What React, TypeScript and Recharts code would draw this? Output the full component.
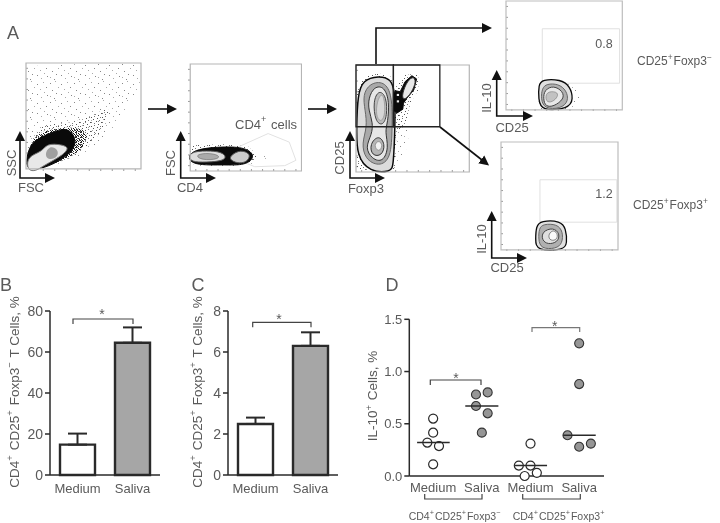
import React from 'react';
import {
  Bar,
  BarChart,
  Cell,
  ErrorBar,
  Scatter,
  ScatterChart,
  XAxis,
  YAxis,
  ZAxis,
} from 'recharts';

type Pt = { x: number; y: number };
const toPts = (pairs: number[][]): Pt[] => pairs.map(([x, y]) => ({ x, y }));

// bar panels
const groups = ['Medium', 'Saliva'];
const tregNegMeans = [14.8, 64.5];
const tregNegErrors = [5.4, 7.5];
const tregPosMeans = [2.49, 6.3];
const tregPosErrors = [0.31, 0.66];
const negTicks = [0, 20, 40, 60, 80];
const posTicks = [0, 2, 4, 6, 8];

// panel D, x is the group position with its jitter
const il10Ticks = [0, 0.5, 1, 1.5];
const il10Groups = ['Medium', 'Saliva', 'Medium', 'Saliva'];
const negMedium = toPts([[1, 0.55], [1, 0.415], [0.88, 0.32], [1.12, 0.287], [1, 0.112]]);
const negSaliva = toPts([[1.88, 0.78], [2.12, 0.8], [1.88, 0.67], [2.12, 0.6], [2, 0.415]]);
const posMedium = toPts([[3, 0.31], [2.76, 0.1], [3, 0.1], [3.13, 0.03], [2.88, 0]]);
const posSaliva = toPts([[4, 1.27], [4, 0.88], [3.76, 0.39], [4.24, 0.31], [4, 0.28]]);
const medians = [
  toPts([[0.67, 0.32], [1.34, 0.32]]),
  toPts([[1.66, 0.67], [2.34, 0.67]]),
  toPts([[2.68, 0.1], [3.34, 0.1]]),
  toPts([[3.67, 0.39], [4.34, 0.39]]),
];

// flow plots, outlines in percent of each plot
const frame = toPts([[0, 0], [100, 0], [100, 100], [0, 100]]);
const edgeTicks = [5, 15, 25, 35, 45, 55, 65, 75, 85, 95];

const sscSparse = toPts([[1, 5], [1, 97], [50, 99], [99, 99], [99, 75], [85, 55], [60, 22], [40, 8], [15, 1]]);
const sscStreak = toPts([[17, 45], [18, 88], [23, 88], [24, 45]]);
const sscFan = toPts([[3, 30], [18, 60], [40, 65], [75, 80], [90, 65], [75, 38], [56, 20], [40, 25]]);
const sscMedium = toPts([[2, 23], [13, 44], [38, 42], [58, 50], [76, 62], [68, 36], [52, 20], [38, 8], [10, 2]]);
const sscDense = toPts([[2, 22], [12, 36], [28, 38], [44, 40], [55, 34], [50, 20], [38, 10], [15, 1], [1, 2]]);
const sscBlack = toPts([[0, 8], [4, 26], [20, 33], [37, 41], [46, 24], [34, 10], [15, 0], [1, -1]]);
const sscWhite = toPts([[1, -2], [1, 12], [14, 16], [18, 24], [31, 23], [38, 20], [31, 12], [15, 3], [9, -2]]);
const sscGray = toPts([[16, 13], [20, 22], [28, 19], [28, 11], [20, 8]]);

const fscDotted = toPts([[0, 7], [0, 24], [30, 25], [52, 23], [60, 15], [56, 7], [40, 5], [10, 5]]);
const fscBlack = toPts([[-2, 20], [30, 23], [50, 22], [59, 14], [50, 5], [30, 6], [-2, 5]]);
const fscRingA = toPts([[-1, 18], [15, 19], [28, 18], [33, 13], [28, 9], [10, 8], [-1, 9]]);
const fscCoreA = toPts([[4, 15], [15, 17], [26, 15], [26, 11], [10, 10]]);
const fscRingB = toPts([[37, 15], [45, 20], [55, 16], [51, 8], [42, 7], [35, 11]]);
const fscGate = toPts([[40, 21], [70, 35], [89, 27], [95, 10], [85, 5], [58, 4], [44, 10]]);
const fscFaint = toPts([[65, 14], [72, 15], [73, 11], [66, 11]]);

const foxStippleLeft = toPts([[0.5, 2], [0.5, 75], [8, 90], [20, 92], [30, 90], [36, 75], [36, 40], [34, 2]]);
const foxStippleRight = toPts([[33, 42.5], [33, 76.7], [43.4, 90.7], [55, 92], [55, 76.7], [47.8, 64.3], [44.9, 48.8], [39, 38], [33, 38]]);
const foxStippleLow = toPts([[31, 3], [33, 42], [48, 42], [44, 20], [36, 3]]);
const foxOuter = toPts([[1.5, 72], [6, 86], [20, 90], [31, 87], [34.5, 75], [34.5, 42], [33, 6], [31, 0], [12, 0], [0.5, 15], [0.5, 42]]);
const foxSecond = toPts([[6, 72], [12, 83], [25, 85], [32, 72], [32, 42], [31, 12], [20, 5], [8, 12], [5, 27], [10, 42], [8, 58]]);
const foxThird = toPts([[11, 69], [16, 80], [25, 80], [29.5, 66], [28, 46], [25.5, 38], [29, 23], [24, 9], [14, 12], [8, 23], [14, 35], [15, 46], [11, 58]]);
const foxFourth = toPts([[15, 66], [20, 77], [27, 71], [27.5, 52], [23.5, 43], [17, 47]]);
const foxCore = toPts([[18.5, 66], [23, 75], [25.5, 65], [25.5, 52], [21.5, 46], [17.5, 53]]);
const foxLower = toPts([[12, 26], [20, 35], [26, 26], [23, 15], [14, 15]]);
const foxLowerCore = toPts([[15.5, 25], [20, 30], [24, 25], [20, 18]]);
const foxBlack = toPts([[33.1, 69], [34.6, 76], [39, 75], [43.4, 84.5], [49.3, 90], [53.5, 87], [51, 76.7], [44.9, 69], [41.9, 64.3], [41.3, 58.7], [36, 55], [33.1, 58]]);
const foxBlob = toPts([[40, 70], [44, 83], [50, 90], [53.5, 85], [49, 74], [43, 67]]);
const foxSpeckA = toPts([[36, 73], [38, 73], [38, 71], [36, 71]]);
const foxSpeckB = toPts([[36, 67], [38, 67], [38, 65], [36, 65]]);
const foxGateLeft = toPts([[0, 42.3], [33, 42.3], [33, 100], [0, 100]]);
const foxGateRight = toPts([[33, 42.3], [74, 42.3], [74, 100], [33, 100]]);

const negGate = toPts([[31.2, 24.5], [97.7, 24.5], [97.7, 74.5], [31.2, 74.5]]);
const negStipple = toPts([[28, 0], [28, 24], [50, 28], [60, 20], [64, 8], [62, 1]]);
const negOuter = toPts([[28, 23], [31, 28], [47, 28], [55, 22], [58, 10], [54, 1], [30, -1], [28, 10]]);
const negSecond = toPts([[31, 20], [35, 24], [45, 24], [52, 18], [54, 8], [47, 1], [33, 1], [30, 10]]);
const negThird = toPts([[33, 18.5], [41, 22.5], [49, 17], [50, 10], [41, 3], [34, 3], [32, 10]]);
const negCore = toPts([[34, 17], [44, 17], [45, 12.5], [40, 7], [34, 7]]);

const posGate = toPts([[33.3, 25.7], [99, 25.7], [99, 65], [33.3, 65]]);
const posOuter = toPts([[30, 22], [34, 27], [51, 27], [55.5, 20], [56.5, 6], [54, 0], [30, -1], [29.5, 9.8]]);
const posSecond = toPts([[32.5, 20], [36, 24], [48, 24], [53, 17], [52.5, 6], [47, 1], [34, 1], [32, 9.8]]);
const posThird = toPts([[35, 17], [44.6, 21], [50.5, 15], [48.5, 7], [40, 5], [35, 9]]);
const posCore = toPts([[40.5, 15], [45.2, 19], [49, 14], [47, 8.5], [41, 9]]);

// dot positions inside the stipple tiles
const sparseTile = [[1, 2], [6, 0], [12, 3], [18, 1], [21, 6], [9, 6], [3, 9], [15, 8], [7, 12], [19, 11], [12, 13], [1, 15], [5, 17], [16, 16], [22, 14]];
const mediumTile = [[0, 1], [3, 0], [6, 2], [9, 1], [2, 3], [8, 4], [5, 5], [0, 6], [10, 6], [3, 7], [7, 8]];
const denseTile = [[0, 0], [1, 0], [3, 1], [1, 2], [4, 2], [0, 3], [2, 3], [3, 4], [1, 4]];

const FONT = '"Liberation Sans", Arial, sans-serif';
const INK = '#5a5a5a';
const LINE = '#2a2a2a';
const noDot = () => <g />;

// one outline of a flow plot, drawn as the joining line of a scatter series
const outline = (
  key: string,
  data: Pt[],
  fill: string,
  stroke: string,
  strokeWidth = 1,
  curve: any = 'basisClosed',
) => (
  <Scatter
    key={key}
    data={data}
    shape={noDot}
    line={{ fill, stroke, strokeWidth }}
    lineJointType={curve}
    isAnimationActive={false}
  />
);

const FlowPlot = ({ left, top, width, height, children }: any) => (
  <div style={{ position: 'absolute', left: left - 1, top: top - 1, filter: 'blur(0.3px)' }}>
    <ScatterChart width={width + 2} height={height + 2} margin={{ top: 1, right: 1, bottom: 1, left: 1 }}>
      <XAxis
        type="number"
        dataKey="x"
        domain={[0, 100]}
        ticks={edgeTicks}
        mirror
        height={20}
        axisLine={false}
        tickSize={2}
        tickLine={{ stroke: '#999' }}
        tickFormatter={() => ''}
      />
      <YAxis
        type="number"
        dataKey="y"
        domain={[0, 100]}
        ticks={edgeTicks}
        mirror
        width={20}
        axisLine={false}
        tickSize={2}
        tickLine={{ stroke: '#999' }}
        tickFormatter={() => ''}
      />
      {children}
    </ScatterChart>
  </div>
);

const Txt = ({ x, y, size = 13, rotate, anchor = 'middle', children, fill = INK }: any) => (
  <text
    x={x}
    y={y}
    fontSize={size}
    fontFamily={FONT}
    fill={fill}
    textAnchor={anchor}
    dominantBaseline="central"
    transform={rotate ? `rotate(${rotate} ${x} ${y})` : undefined}
  >
    {children}
  </text>
);

const Sup = ({ children, size }: any) => (
  <>
    <tspan dy={-size * 0.35} fontSize={size * 0.7}>{children}</tspan>
    <tspan dy={size * 0.35} fontSize={size}>{'\u200a'}</tspan>
  </>
);

const Bracket = ({ x1, x2, top, bottom, stroke = '#444' }: any) => (
  <path d={`M${x1} ${bottom}V${top}H${x2}V${bottom}`} fill="none" stroke={stroke} strokeWidth={1.2} />
);

const AxisArrows = ({ x, top, y, right }: any) => (
  <path d={`M${x} ${top + 8}V${y}H${right - 8}`} fill="none" stroke="#111" strokeWidth={1.6} markerEnd="url(#head)" markerStart="url(#headStart)" />
);

const BarPanel = ({ left, means, errors, ticks, max }: any) => {
  const rows = groups.map((name, i) => ({ name, value: means[i], err: [0, errors[i]] }));
  return (
    <div style={{ position: 'absolute', left, top: 300 }}>
      <BarChart width={170} height={205} data={rows} margin={{ top: 11, right: 10, bottom: 0, left: 0 }}>
        <XAxis
          dataKey="name"
          height={30}
          tickLine={false}
          tickMargin={3}
          axisLine={{ stroke: LINE, strokeWidth: 1.5 }}
          tick={{ fontSize: 13, fill: INK, fontFamily: FONT }}
          interval={0}
        />
        <YAxis
          width={50}
          domain={[0, max]}
          ticks={ticks}
          tickSize={5}
          tickMargin={2}
          axisLine={{ stroke: LINE, strokeWidth: 1.5 }}
          tickLine={{ stroke: LINE, strokeWidth: 1.5 }}
          tick={{ fontSize: 14, fill: INK, fontFamily: FONT }}
        />
        <Bar dataKey="value" barSize={35} stroke={LINE} strokeWidth={2.4} isAnimationActive={false}>
          <Cell fill="#fff" />
          <Cell fill="#a6a6a6" />
          <ErrorBar dataKey="err" direction="y" width={9.5} stroke={LINE} strokeWidth={2} isAnimationActive={false} />
        </Bar>
      </BarChart>
    </div>
  );
};

const IL10Panel = () => (
  <div style={{ position: 'absolute', left: 360, top: 310 }}>
    <ScatterChart width={250} height={190} margin={{ top: 9.3, right: 6, bottom: 0, left: 0 }}>
      <XAxis
        type="number"
        dataKey="x"
        domain={[0.51, 4.51]}
        ticks={[1, 2, 3, 4]}
        tickFormatter={(v: number) => il10Groups[v - 1]}
        height={24}
        tickLine={false}
        tickMargin={1}
        axisLine={{ stroke: LINE, strokeWidth: 1.5 }}
        tick={{ fontSize: 13, fill: INK, fontFamily: FONT }}
        interval={0}
      />
      <YAxis
        type="number"
        dataKey="y"
        width={49.3}
        domain={[0, 1.5]}
        ticks={il10Ticks}
        tickFormatter={(v: number) => v.toFixed(1)}
        tickSize={5}
        tickMargin={2}
        axisLine={{ stroke: LINE, strokeWidth: 1.5 }}
        tickLine={{ stroke: LINE, strokeWidth: 1.5 }}
        tick={{ fontSize: 13, fill: INK, fontFamily: FONT }}
      />
      <ZAxis range={[46, 46]} />
      <Scatter data={negMedium} fill="#fff" stroke={LINE} strokeWidth={1.2} isAnimationActive={false} />
      <Scatter data={negSaliva} fill="#969696" stroke="#333" strokeWidth={1.1} isAnimationActive={false} />
      <Scatter data={posMedium} fill="#fff" stroke={LINE} strokeWidth={1.2} isAnimationActive={false} />
      <Scatter data={posSaliva} fill="#969696" stroke="#333" strokeWidth={1.1} isAnimationActive={false} />
      {medians.map((m, i) => (
        <Scatter
          key={i}
          data={m}
          shape={noDot}
          line={{ stroke: LINE, strokeWidth: 1.4, fill: 'none' }}
          isAnimationActive={false}
        />
      ))}
    </ScatterChart>
  </div>
);

const Annotations = () => (
  <svg width={720} height={523} style={{ position: 'absolute', left: 0, top: 0, pointerEvents: 'none' }}>
    <defs>
      <marker id="head" markerUnits="userSpaceOnUse" markerWidth={11} markerHeight={11} refX={1} refY={5.5} orient="auto">
        <path d="M0 0.5L10 5.5L0 10.5Z" fill="#111" />
      </marker>
      <marker id="headStart" markerUnits="userSpaceOnUse" markerWidth={11} markerHeight={11} refX={1} refY={5.5} orient="auto-start-reverse">
        <path d="M0 0.5L10 5.5L0 10.5Z" fill="#111" />
      </marker>
    </defs>

    <Txt x={13} y={33} size={18}>A</Txt>
    <Txt x={6} y={285} size={18}>B</Txt>
    <Txt x={198} y={285} size={18}>C</Txt>
    <Txt x={392} y={285} size={18}>D</Txt>

    {/* gating arrows */}
    <path d="M148 109H168" stroke="#111" strokeWidth={1.6} markerEnd="url(#head)" />
    <path d="M308 109H328" stroke="#111" strokeWidth={1.6} markerEnd="url(#head)" />
    <path d="M376 64V28H483" fill="none" stroke="#111" strokeWidth={1.6} markerEnd="url(#head)" />
    <path d="M440 127L482 160" stroke="#111" strokeWidth={1.6} markerEnd="url(#head)" />

    <AxisArrows x={20} top={132} y={178} right={54} />
    <AxisArrows x={180.7} top={132} y={178} right={215} />
    <AxisArrows x={350} top={132} y={178} right={384} />
    <AxisArrows x={496.7} top={71} y={116} right={532} />
    <AxisArrows x={491.7} top={212} y={258} right={526} />

    <Txt x={11} y={163} size={13} rotate={-90}>SSC</Txt>
    <Txt x={31} y={187} size={13}>FSC</Txt>
    <Txt x={170} y={163} size={13} rotate={-90}>FSC</Txt>
    <Txt x={190} y={187} size={13}>CD4</Txt>
    <Txt x={339} y={158} size={13} rotate={-90}>CD25</Txt>
    <Txt x={366} y={188} size={13}>Foxp3</Txt>
    <Txt x={486} y={98} size={13} rotate={-90}>IL-10</Txt>
    <Txt x={512} y={127} size={13}>CD25</Txt>
    <Txt x={481} y={239} size={13} rotate={-90}>IL-10</Txt>
    <Txt x={507} y={267} size={13}>CD25</Txt>

    <Txt x={235} y={124} size={13} anchor="start">CD4<Sup size={13}>+</Sup> cells</Txt>
    <Txt x={604} y={44} size={12.5}>0.8</Txt>
    <Txt x={604} y={194} size={12.5}>1.2</Txt>
    <Txt x={637} y={61} size={12} anchor="start">CD25<Sup size={12}>+</Sup>Foxp3<Sup size={12}>−</Sup></Txt>
    <Txt x={633} y={205} size={12} anchor="start">CD25<Sup size={12}>+</Sup>Foxp3<Sup size={12}>+</Sup></Txt>

    {/* panel B and C titles and significance */}
    <Txt x={14} y={392} size={13.5} rotate={-90}>CD4<Sup size={13.5}>+</Sup> CD25<Sup size={13.5}>+</Sup> Foxp3<Sup size={13.5}>−</Sup> T Cells, %</Txt>
    <Txt x={197} y={392} size={13.5} rotate={-90}>CD4<Sup size={13.5}>+</Sup> CD25<Sup size={13.5}>+</Sup> Foxp3<Sup size={13.5}>+</Sup> T Cells, %</Txt>
    <Bracket x1={73} x2={133} top={319} bottom={324} />
    <Txt x={102} y={314} size={14}>*</Txt>
    <Bracket x1={252.7} x2={311} top={322.3} bottom={327.3} />
    <Txt x={279} y={319} size={14}>*</Txt>

    {/* panel D */}
    <Txt x={372.7} y={396} size={13.5} rotate={-90}>IL-10<Sup size={13.5}>+</Sup> Cells, %</Txt>
    <Bracket x1={430.3} x2={481} top={380} bottom={385} />
    <Txt x={456} y={378} size={14}>*</Txt>
    <Bracket x1={532} x2={579.7} top={327.7} bottom={332} stroke="#777" />
    <Txt x={554.7} y={326} size={14}>*</Txt>
    <Bracket x1={424.7} x2={482} top={499} bottom={494} />
    <Bracket x1={522.7} x2={580.3} top={499} bottom={494} />
    <Txt x={455} y={516} size={10.5}>CD4<Sup size={10.5}>+</Sup>CD25<Sup size={10.5}>+</Sup>Foxp3<Sup size={10.5}>−</Sup></Txt>
    <Txt x={559} y={516} size={10.5}>CD4<Sup size={10.5}>+</Sup>CD25<Sup size={10.5}>+</Sup>Foxp3<Sup size={10.5}>+</Sup></Txt>
  </svg>
);

const Patterns = () => (
  <svg width={0} height={0} style={{ position: 'absolute' }}>
    <defs>
      <pattern id="sparse" width={24} height={19} patternUnits="userSpaceOnUse">
        {sparseTile.map(([x, y], i) => (
          <rect key={i} x={x} y={y} width={1} height={1} fill={i % 2 ? '#aaa' : '#888'} />
        ))}
      </pattern>
      <pattern id="medium" width={11} height={9} patternUnits="userSpaceOnUse">
        {mediumTile.map(([x, y], i) => (
          <rect key={i} x={x} y={y} width={1} height={1} fill={i % 2 ? '#777' : '#555'} />
        ))}
      </pattern>
      <pattern id="dense" width={5} height={5} patternUnits="userSpaceOnUse">
        {denseTile.map(([x, y], i) => (
          <rect key={i} x={x} y={y} width={1} height={1} fill={i % 2 ? '#333' : '#111'} />
        ))}
      </pattern>
    </defs>
  </svg>
);

export default function App() {
  return (
    <div style={{ position: 'absolute', left: 0, top: 0, width: 720, height: 523, background: '#fff', overflow: 'hidden', filter: 'blur(0.3px)' }}>
      <Patterns />

      <FlowPlot left={26} top={63} width={115} height={108}>
        {outline('sp', sscSparse, 'url(#sparse)', 'none', 0, 'linearClosed')}
        {outline('st', sscStreak, 'url(#sparse)', 'none', 0, 'linearClosed')}
        {outline('fa', sscFan, 'url(#sparse)', 'none', 0, 'linearClosed')}
        {outline('me', sscMedium, 'url(#medium)', 'none', 0)}
        {outline('de', sscDense, 'url(#dense)', 'none', 0)}
        {outline('bl', sscBlack, '#0a0a0a', '#0a0a0a')}
        {outline('wh', sscWhite, '#e8e8e8', '#777')}
        {outline('gr', sscGray, '#a0a0a0', 'none', 0)}
        {outline('fr', frame, 'none', '#b5b5b5', 1.2, 'linearClosed')}
      </FlowPlot>

      <FlowPlot left={187.5} top={64} width={113.5} height={107}>
        {outline('gate', fscGate, 'none', '#e2e2e2', 1, 'linearClosed')}
        {outline('faint', fscFaint, 'url(#sparse)', 'none', 0)}
        {outline('dot', fscDotted, 'url(#medium)', 'none', 0, 'linearClosed')}
        {outline('bl', fscBlack, '#0a0a0a', '#0a0a0a')}
        {outline('ra', fscRingA, '#ddd', '#555')}
        {outline('ca', fscCoreA, '#aaa', '#666', 0.6)}
        {outline('rb', fscRingB, '#ccc', '#555')}
        {outline('fr', frame, 'none', '#b5b5b5', 1.2, 'linearClosed')}
      </FlowPlot>

      <FlowPlot left={355.7} top={65} width={113.3} height={107}>
        {outline('s1', foxStippleLeft, 'url(#medium)', 'none', 0, 'linearClosed')}
        {outline('s2', foxStippleRight, 'url(#medium)', 'none', 0, 'linearClosed')}
        {outline('s3', foxStippleLow, 'url(#sparse)', 'none', 0, 'linearClosed')}
        {outline('o', foxOuter, '#dcdcdc', '#0a0a0a', 1.5)}
        {outline('2', foxSecond, '#a9a9a9', '#666')}
        {outline('3', foxThird, '#e6e6e6', '#333')}
        {outline('4', foxFourth, '#bbb', '#444')}
        {outline('5', foxCore, '#d6d6d6', '#888', 0.6)}
        {outline('6', foxLower, '#b5b5b5', '#333')}
        {outline('7', foxLowerCore, '#f2f2f2', '#777', 0.6)}
        {outline('b', foxBlack, '#0a0a0a', '#0a0a0a', 1, 'linearClosed')}
        {outline('c', foxBlob, '#e8e8e8', '#333')}
        {outline('a', foxSpeckA, '#eee', 'none', 0, 'linearClosed')}
        {outline('d', foxSpeckB, '#eee', 'none', 0, 'linearClosed')}
        {outline('fr', frame, 'none', '#b5b5b5', 1.2, 'linearClosed')}
        {outline('gl', foxGateLeft, 'none', '#222', 1.3, 'linearClosed')}
        {outline('gr', foxGateRight, 'none', '#222', 1.3, 'linearClosed')}
      </FlowPlot>

      <FlowPlot left={505.7} top={1} width={116.3} height={110}>
        {outline('g', negGate, 'none', '#e0e0e0', 1, 'linearClosed')}
        {outline('s', negStipple, 'url(#sparse)', 'none', 0, 'linearClosed')}
        {outline('o', negOuter, '#e0e0e0', '#0a0a0a', 1.3)}
        {outline('2', negSecond, '#b0b0b0', '#666')}
        {outline('3', negThird, '#e8e8e8', '#444')}
        {outline('c', negCore, '#c2c2c2', '#777', 0.6)}
        {outline('fr', frame, 'none', '#bdbdbd', 1.2, 'linearClosed')}
      </FlowPlot>

      <FlowPlot left={501} top={142} width={117} height={109}>
        {outline('g', posGate, 'none', '#e0e0e0', 1, 'linearClosed')}
        {outline('o', posOuter, '#e0e0e0', '#0a0a0a', 1.3)}
        {outline('2', posSecond, '#b0b0b0', '#666')}
        {outline('3', posThird, '#e0e0e0', '#444')}
        {outline('c', posCore, '#fafafa', '#666', 0.8)}
        {outline('fr', frame, 'none', '#bdbdbd', 1.2, 'linearClosed')}
      </FlowPlot>

      <BarPanel left={0} means={tregNegMeans} errors={tregNegErrors} ticks={negTicks} max={80} />
      <BarPanel left={177.7} means={tregPosMeans} errors={tregPosErrors} ticks={posTicks} max={8} />
      <IL10Panel />

      <Annotations />
    </div>
  );
}
